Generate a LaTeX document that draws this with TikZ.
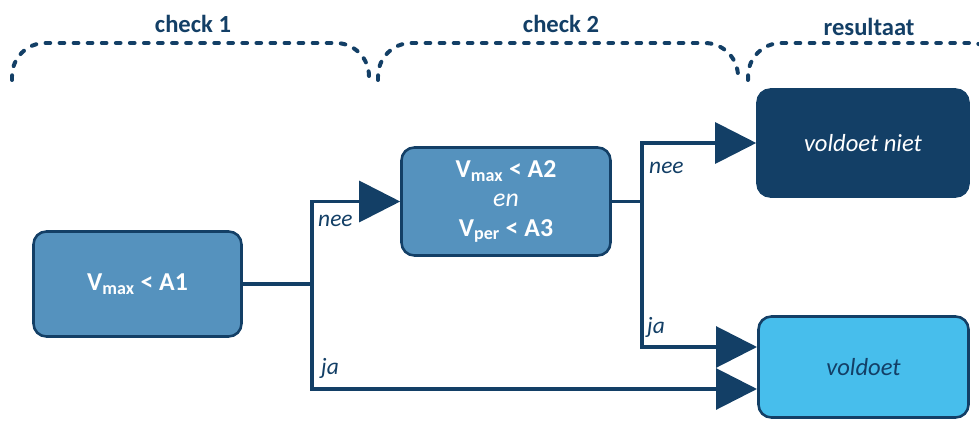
\documentclass[tikz,border=0pt]{standalone}
\usepackage{fontspec}
\setmainfont{Carlito}
\usetikzlibrary{arrows.meta}

\definecolor{donker}{RGB}{19,63,102}
\definecolor{midden}{RGB}{85,146,190}
\definecolor{licht}{RGB}{71,190,236}

\begin{document}
\begin{tikzpicture}[x = 0.03cm, y = -0.03cm,
		toets/.style = {draw=donker, fill=midden, rounded corners=11pt, line width=2.2pt, text=white, align=center, inner sep=0pt, font=\fontsize{22}{25}\selectfont\bfseries},
		nietok/.style = {draw=donker, fill=donker, rounded corners=11pt, line width=2.2pt, text=white, inner sep=0pt, font=\fontsize{21}{24}\selectfont\itshape},
		ok/.style = {draw=donker, fill=licht, rounded corners=11pt, line width=2.2pt, text=donker, inner sep=0pt, font=\fontsize{21}{24}\selectfont\itshape},
		kop/.style = {text=donker, font=\fontsize{21}{24}\selectfont\bfseries, inner sep=0pt},
		tak/.style = {text=donker, font=\fontsize{20}{22}\selectfont\itshape, inner sep=0pt, anchor=west},
		lijn/.style = {draw=donker, line width=2.6pt},
		pijl/.style = {lijn, -{Triangle[length=35pt, width=35pt]}},
		accolade/.style = {draw=donker, line width=3.4pt, dash pattern=on 4pt off 8pt, line cap=round, rounded corners=1cm},]
		
		\useasboundingbox (0,0) rectangle (979,421);
		
		% kopjes met accolades
		\node[kop] (K1) at (193,24) {check 1};
		\node[kop] (K2) at (561,24) {check 2};
		\node[kop] (K3) at (869,27) {resultaat};
		
		\draw[accolade] (12,80) -- (12,43) -- (369,43) -- (369,80);
		\draw[accolade] (378,80) -- (378,43) -- (738,43) -- (738,80);
		\draw[accolade] (748,80) -- (748,43) -- (1004,43) -- (1004,80);
		
		% blokken
		\node[toets, minimum width=6.24cm, minimum height=3.15cm] (A1) at (137.5,284) {V\textsubscript{max} < A1};
		\node[toets, minimum width=6.27cm, minimum height=3.24cm] (A2) at (506,201.5) {V\textsubscript{max} < A2\\{\mdseries\itshape en}\\V\textsubscript{per} < A3};
		\node[nietok, minimum width=6.33cm, minimum height=3.21cm] (N) at (863,143) {voldoet niet};
		\node[ok, minimum width=6.3cm, minimum height=3.03cm] (J) at (863.5,367) {voldoet};
		
		% splitsingen
		\coordinate (S1) at (312,284);
		\coordinate (S2) at (642,201.5);
		\coordinate (J1) at (757,347);
		\coordinate (J2) at (757,389);
		
		\draw[lijn] (A1.east) -- (S1);
		\draw[pijl] (S1) |- (A2.west);
		\draw[pijl] (S1) |- (J2);
		\draw[lijn] (A2.east) -- (S2);
		\draw[pijl] (S2) |- (N.west);
		\draw[pijl] (S2) |- (J1);
		
		\node[tak] (T1) at (318,221) {nee};
		\node[tak] (T2) at (321,368) {ja};
		\node[tak] (T3) at (649,168) {nee};
		\node[tak] (T4) at (647,327) {ja};
		
	\end{tikzpicture}
\end{document}
